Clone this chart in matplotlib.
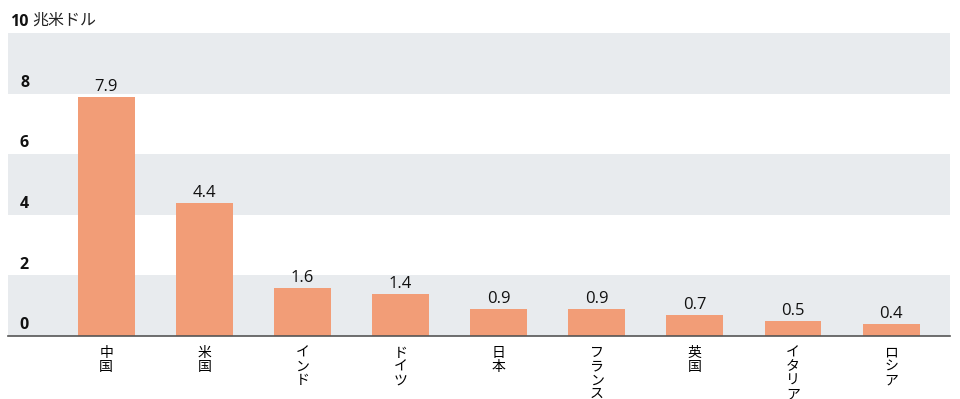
import matplotlib.pyplot as plt
from matplotlib import transforms

plt.rcParams['font.family'] = ['Open Sans', 'Noto Sans CJK JP', 'DejaVu Sans']

# data
countries = ['中国', '米国', 'インド', 'ドイツ', '日本', 'フランス', '英国', 'イタリア', 'ロシア']
values = [7.9, 4.4, 1.6, 1.4, 0.9, 0.9, 0.7, 0.5, 0.4]
yticks = [0, 2, 4, 6, 8, 10]
unit = '兆米ドル'

bar_color = '#f29d77'
band_color = '#e8ebee'
cjk = ['Noto Sans CJK JP', 'DejaVu Sans']

fig = plt.figure(figsize=(9.6, 3.99), dpi=100)
ax = fig.add_axes([8 / 960, 63 / 399, 942 / 960, 303 / 399])

# alternating background bands
for lo in yticks[:-1:2]:
    ax.axhspan(lo, lo + 2, color=band_color, lw=0, zorder=0)

x = list(range(len(countries)))
bars = ax.bar(x, values, width=0.58, color=bar_color, zorder=2)

ax.set_xlim(-1.0, 8.6)
ax.set_ylim(0, 10)

# value labels above bars
for xi, v in zip(x, values):
    ax.annotate(f'{v:.1f}', (xi, v), xytext=(0, 1), textcoords='offset points',
                ha='center', va='bottom', fontsize=12, color='#111111')

# y labels sitting on the gridlines, left side
trans = transforms.blended_transform_factory(ax.transAxes, ax.transData)
for t in yticks:
    ax.annotate(str(t), (0.0223, t), xycoords=trans, xytext=(0, 2),
                textcoords='offset points', ha='right', va='bottom',
                fontsize=11.5, fontweight='bold', color='#111111')
# unit next to the top label (labels near the bottom edge are cut off, as in the source)
ax.annotate(unit, (0.0255, 10), xycoords=trans, xytext=(0, 3),
            textcoords='offset points', ha='left', va='bottom',
            fontsize=11.5, color='#222222', family=cjk)

# vertical (stacked) category labels
ax.set_xticks(x)
ax.set_xticklabels(['\n'.join(c) for c in countries], family=cjk,
                   fontsize=10, linespacing=0.98, va='top')
ax.tick_params(axis='x', length=0, pad=7)
ax.set_yticks([])

for s in ['top', 'right', 'left']:
    ax.spines[s].set_visible(False)
ax.spines['bottom'].set_color('#555555')
ax.spines['bottom'].set_linewidth(1.2)
ax.spines['bottom'].set_zorder(3)

fig.savefig('out.png', dpi=100)
